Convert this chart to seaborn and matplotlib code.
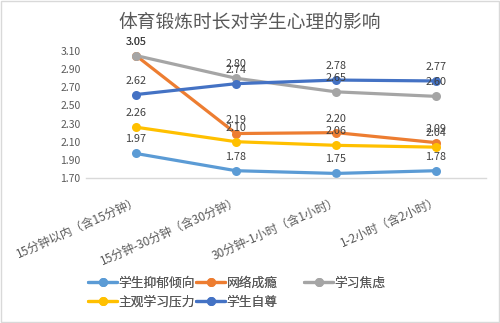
import matplotlib
matplotlib.use("Agg")
import matplotlib.pyplot as plt
import seaborn as sns
import pandas as pd
from matplotlib.patches import Rectangle

categories = ["15分钟以内（含15分钟）", "15分钟-30分钟（含30分钟）", "30分钟-1小时（含1小时）", "1-2小时（含2小时）"]
depression = [1.97, 1.78, 1.75, 1.78]
addiction = [3.05, 2.19, 2.20, 2.09]
anxiety = [3.05, 2.80, 2.65, 2.60]
pressure = [2.26, 2.10, 2.06, 2.04]
esteem = [2.62, 2.74, 2.78, 2.77]
yticks = [1.70, 1.90, 2.10, 2.30, 2.50, 2.70, 2.90, 3.10]

series = {
    "学生抑郁倾向": depression,
    "网络成瘾": addiction,
    "学习焦虑": anxiety,
    "主观学习压力": pressure,
    "学生自尊": esteem,
}
colors = {
    "学生抑郁倾向": "#5B9BD5",
    "网络成瘾": "#ED7D31",
    "学习焦虑": "#A5A5A5",
    "主观学习压力": "#FFC000",
    "学生自尊": "#4472C4",
}

rows = []
for name, vals in series.items():
    for i, v in enumerate(vals):
        rows.append({"series": name, "pos": i, "value": v})
df = pd.DataFrame(rows)

sns.set_theme(style="white")
plt.rcParams["font.family"] = ["Noto Sans CJK SC", "DejaVu Sans"]

fig = plt.figure(figsize=(5.0, 3.23), dpi=100)
ax = fig.add_axes([0.172, 0.449, 0.800, 0.393])

sns.lineplot(data=df, x="pos", y="value", hue="series", palette=colors,
             hue_order=list(series.keys()), marker="o", markersize=6.5,
             markeredgewidth=0, linewidth=2.3, ax=ax, legend=True)

for name, vals in series.items():
    for i, v in enumerate(vals):
        ax.annotate(f"{v:.2f}", (i, v), xytext=(0, 6.5), textcoords="offset points",
                    ha="center", va="bottom", fontsize=7.8, color="#404040")

ax.set_xlim(-0.5, len(categories) - 0.5)
ax.set_ylim(1.70, 3.10)
ax.set_yticks(yticks)
ax.set_yticklabels([f"{t:.2f}" for t in yticks], fontsize=7.5, color="#595959")
ax.set_xticks(range(len(categories)))
ax.set_xticklabels(categories, rotation=24, ha="right", rotation_mode="anchor",
                   fontsize=8.6, color="#595959")
ax.tick_params(axis="y", length=0, pad=4)
ax.tick_params(axis="x", length=0, pad=12)
ax.set_xlabel("")
ax.set_ylabel("")
for s in ["top", "right", "left"]:
    ax.spines[s].set_visible(False)
ax.spines["bottom"].set_color("#D9D9D9")
ax.spines["bottom"].set_linewidth(1.0)

handles, labels = ax.get_legend_handles_labels()
hmap = dict(zip(labels, handles))
ax.get_legend().remove()
columns = [["学生抑郁倾向", "主观学习压力"], ["网络成瘾", "学生自尊"], ["学习焦虑"]]
col_x = [0.176, 0.392, 0.608]
for cx, col in zip(col_x, columns):
    leg = fig.legend([hmap[o] for o in col], col, loc="upper left",
                     bbox_to_anchor=(cx, 0.143), bbox_transform=fig.transFigure,
                     frameon=False, fontsize=9.2, labelcolor="#595959", handlelength=2.3,
                     handletextpad=0.1, labelspacing=0.45, borderpad=0, borderaxespad=0)
    fig.add_artist(leg)

fig.text(0.5, 0.932, "体育锻炼时长对学生心理的影响", ha="center", va="center",
         fontsize=13.5, color="#595959")

fig.patches.append(Rectangle((0.002, 0.003), 0.996, 0.994, transform=fig.transFigure,
                             fill=False, edgecolor="#D9D9D9", linewidth=1))

fig.savefig("out.png", dpi=100)
